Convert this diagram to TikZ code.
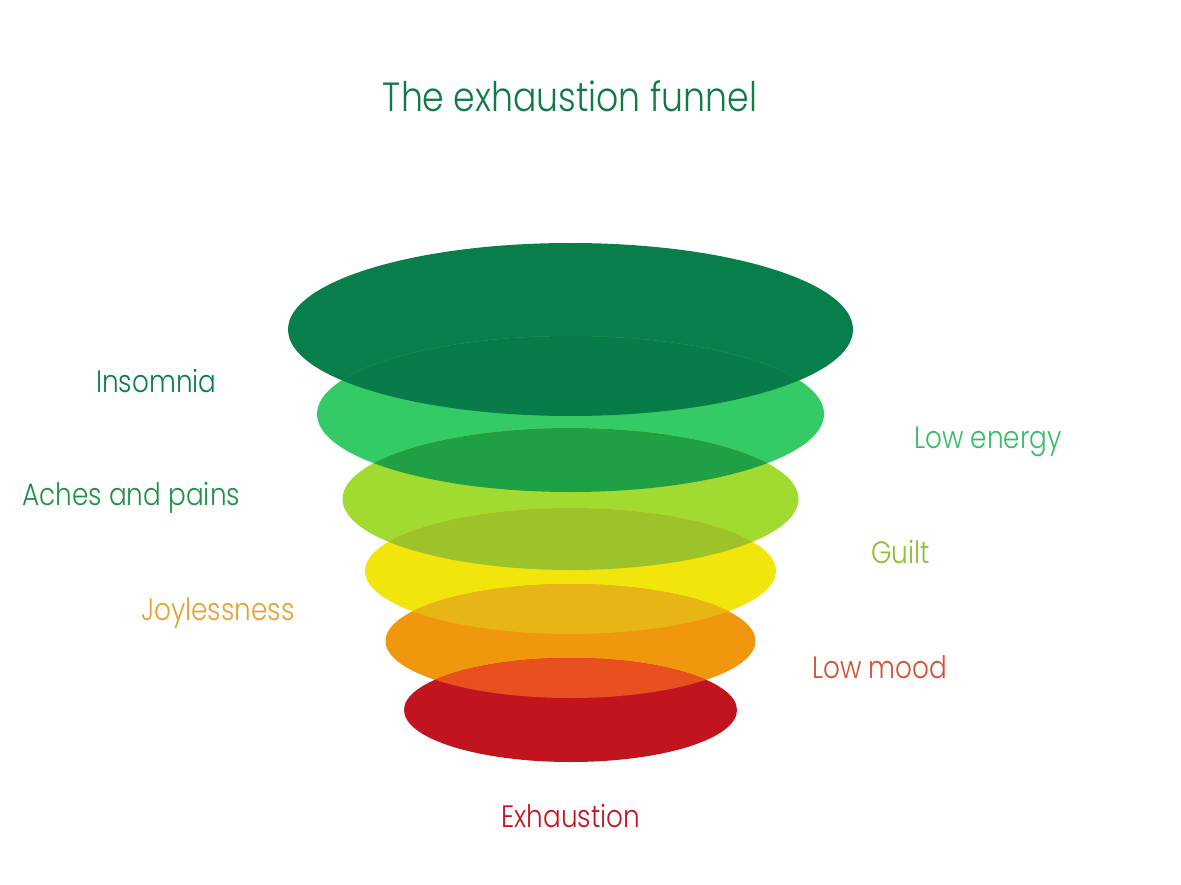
\documentclass[tikz,border=0pt]{standalone}
\usepackage{fontspec}
\setmainfont{Poppins}[UprightFont=* Light,FakeStretch=0.85]
\usepackage{xcolor}
\usepackage{tikz}
\usetikzlibrary{positioning}
\definecolor{pine}{HTML}{087E4A}
\definecolor{fern}{HTML}{34CB67}
\definecolor{lime}{HTML}{A1DB31}
\definecolor{sun}{HTML}{F2E50C}
\definecolor{amber}{HTML}{F0970D}
\definecolor{crimson}{HTML}{C2141F}
\definecolor{pinefern}{HTML}{077C48}
\definecolor{fernlime}{HTML}{1FA044}
\definecolor{limesun}{HTML}{9CC42A}
\definecolor{sunamber}{HTML}{E8B516}
\definecolor{ambercrimson}{HTML}{E85020}
\definecolor{titlegreen}{HTML}{107A48}
\definecolor{achesgreen}{HTML}{1E9045}
\definecolor{energygreen}{HTML}{33BE66}
\definecolor{guiltgreen}{HTML}{8DBE30}
\definecolor{joyorange}{HTML}{E8A030}
\definecolor{moodred}{HTML}{D4502E}

\begin{document}
\begin{tikzpicture}[x=0.025cm,y=-0.025cm,
  tag/.style={font=\fontsize{22}{26}\selectfont,inner sep=0pt,anchor=base west}]
  \useasboundingbox (0,0) rectangle (1181,885);
  % funnel layers
  \fill[pine] (570.5,329.5) ellipse [x radius=282.5,y radius=86.5];
  \fill[fern] (570.5,414) ellipse [x radius=253.5,y radius=78];
  \fill[lime] (570.5,499) ellipse [x radius=228,y radius=71];
  \fill[sun] (570.5,571) ellipse [x radius=205.5,y radius=63];
  \fill[amber] (570.5,641) ellipse [x radius=185,y radius=57];
  \fill[crimson] (570.5,710) ellipse [x radius=166.5,y radius=52];
  % overlaps
  \begin{scope}
    \clip (570.5,329.5) ellipse [x radius=282.5,y radius=86.5];
    \fill[pinefern] (570.5,414) ellipse [x radius=253.5,y radius=78];
  \end{scope}
  \begin{scope}
    \clip (570.5,414) ellipse [x radius=253.5,y radius=78];
    \fill[fernlime] (570.5,499) ellipse [x radius=228,y radius=71];
  \end{scope}
  \begin{scope}
    \clip (570.5,499) ellipse [x radius=228,y radius=71];
    \fill[limesun] (570.5,571) ellipse [x radius=205.5,y radius=63];
  \end{scope}
  \begin{scope}
    \clip (570.5,571) ellipse [x radius=205.5,y radius=63];
    \fill[sunamber] (570.5,641) ellipse [x radius=185,y radius=57];
  \end{scope}
  \begin{scope}
    \clip (570.5,641) ellipse [x radius=185,y radius=57];
    \fill[ambercrimson] (570.5,710) ellipse [x radius=166.5,y radius=52];
  \end{scope}
  % labels
  \node[font=\fontsize{29}{34}\selectfont,inner sep=0pt,anchor=base,text=titlegreen] (title) at (570,112) {The exhaustion funnel};
  \node[tag,text=pine] (insomnia) at (96,392) {Insomnia};
  \node[tag,text=achesgreen] (aches) at (22,505) {Aches and pains};
  \node[tag,text=joyorange] (joy) at (141,620) {Joylessness};
  \node[tag,text=energygreen] (energy) at (914,448) {Low energy};
  \node[tag,text=guiltgreen] (guilt) at (871,563) {Guilt};
  \node[tag,text=moodred] (mood) at (812,678) {Low mood};
  \node[tag,text=crimson] (exhaustion) at (501,827) {Exhaustion};
\end{tikzpicture}
\end{document}
